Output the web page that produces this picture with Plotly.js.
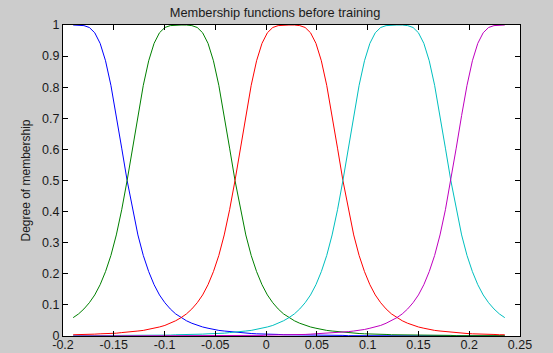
<!DOCTYPE html>
<html>
<head>
<meta charset="utf-8">
<script src="https://cdn.plot.ly/plotly-3.0.1.min.js"></script>
<style>
html,body{margin:0;padding:0;background:#cccccc;}
#chart{width:553px;height:353px;}
</style>
</head>
<body>
<div id="chart"></div>
<script>
// x sample positions (input variable)
var xs = [-0.19,-0.1846875,-0.179375,-0.1740625,-0.16875,-0.1634375,-0.158125,-0.1528125,-0.1475,-0.1421875,
-0.136875,-0.1315625,-0.12625,-0.1209375,-0.115625,-0.1103125,-0.105,-0.0996875,-0.094375,-0.0890625,
-0.08375,-0.0784375,-0.073125,-0.0678125,-0.0625,-0.0571875,-0.051875,-0.0465625,-0.04125,-0.0359375,
-0.030625,-0.0253125,-0.02,-0.0146875,-0.009375,-0.0040625,0.00125,0.0065625,0.011875,0.0171875,
0.0225,0.0278125,0.033125,0.0384375,0.04375,0.0490625,0.054375,0.0596875,0.065,0.0703125,
0.075625,0.0809375,0.08625,0.0915625,0.096875,0.1021875,0.1075,0.1128125,0.118125,0.1234375,
0.12875,0.1340625,0.139375,0.1446875,0.15,0.1553125,0.160625,0.1659375,0.17125,0.1765625,
0.181875,0.1871875,0.1925,0.1978125,0.203125,0.2084375,0.21375,0.2190625,0.224375,0.2296875,0.235];

var mf1 = [1,1,0.998,0.992,0.975,0.941,0.885,0.806,0.709,0.604,0.5,0.406,0.325,0.259,0.207,0.165,0.132,0.107,0.087,0.071,
0.059,0.049,0.041,0.034,0.029,0.025,0.021,0.018,0.016,0.014,0.012,0.011,0.009,0.008,0.007,0.007,0.006,0.005,0.005,0.004,
0.004,0.004,0.003,0.003,0.003,0.002,0.002,0.002,0.002,0.002,0.002,
0.001,0.001,0.001,0.001,0.001,0.001,0.001,0.001,0.001,0.001,0.001,0.001,0.001,0.001,0.001,0.001,
0,0,0,0,0,0,0,0,0,0,0,0,0,0];

var mf2 = [0.059,0.071,0.087,0.107,0.132,0.165,0.207,0.259,0.325,0.406,0.5,0.604,0.709,0.806,0.885,0.941,0.975,0.992,0.998,1,
1,1,0.998,0.992,0.975,0.941,0.885,0.806,0.709,0.604,0.5,0.406,0.325,0.259,0.207,0.165,0.132,0.107,0.087,0.071,
0.059,0.049,0.041,0.034,0.029,0.025,0.021,0.018,0.016,0.014,0.012,0.011,0.009,0.008,0.007,0.007,0.006,0.005,0.005,0.004,
0.004,0.004,0.003,0.003,0.003,0.002,0.002,0.002,0.002,0.002,0.002,
0.001,0.001,0.001,0.001,0.001,0.001,0.001,0.001,0.001,0.001];

var mf3 = [0.004,0.004,0.005,0.005,0.006,0.007,0.007,0.008,0.009,0.011,0.012,0.014,0.016,0.018,0.021,0.025,0.029,0.034,0.041,0.049,
0.059,0.071,0.087,0.107,0.132,0.165,0.207,0.259,0.325,0.406,0.5,0.604,0.709,0.806,0.885,0.941,0.975,0.992,0.998,1,
1,1,0.998,0.992,0.975,0.941,0.885,0.806,0.709,0.604,0.5,0.406,0.325,0.259,0.207,0.165,0.132,0.107,0.087,0.071,
0.059,0.049,0.041,0.034,0.029,0.025,0.021,0.018,0.016,0.014,0.012,0.011,0.009,0.008,0.007,0.007,0.006,0.005,0.005,0.004,0.004];

var mf4 = [0.001,0.001,0.001,0.001,0.001,0.001,0.001,0.001,0.001,0.001,
0.002,0.002,0.002,0.002,0.002,0.002,0.003,0.003,0.003,0.004,
0.004,0.004,0.005,0.005,0.006,0.007,0.007,0.008,0.009,0.011,0.012,0.014,0.016,0.018,0.021,0.025,0.029,0.034,0.041,0.049,
0.059,0.071,0.087,0.107,0.132,0.165,0.207,0.259,0.325,0.406,0.5,0.604,0.709,0.806,0.885,0.941,0.975,0.992,0.998,1,
1,1,0.998,0.992,0.975,0.941,0.885,0.806,0.709,0.604,0.5,0.406,0.325,0.259,0.207,0.165,0.132,0.107,0.087,0.071,0.059];

var mf5 = [0,0,0,0,0,0,0,0,0,0,0,0,0,0,
0.001,0.001,0.001,0.001,0.001,0.001,0.001,0.001,0.001,0.001,0.001,0.001,0.001,0.001,0.001,0.001,
0.002,0.002,0.002,0.002,0.002,0.002,0.003,0.003,0.003,0.004,0.004,0.004,0.005,0.005,0.006,0.007,0.007,0.008,0.009,0.011,
0.012,0.014,0.016,0.018,0.021,0.025,0.029,0.034,0.041,0.049,
0.059,0.071,0.087,0.107,0.132,0.165,0.207,0.259,0.325,0.406,0.5,0.604,0.709,0.806,0.885,0.941,0.975,0.992,0.998,1,1];

var seriesNames = ["mf1","mf2","mf3","mf4","mf5"];
var seriesColors = ["#0000ff","#008000","#ff0000","#00bfbf","#bf00bf"];
var seriesValues = [mf1, mf2, mf3, mf4, mf5];

var xTickVals = [-0.2,-0.15,-0.1,-0.05,0,0.05,0.1,0.15,0.2,0.25];
var xTickText = ["-0.2","-0.15","-0.1","-0.05","0","0.05","0.1","0.15","0.2","0.25"];
var yTickVals = [0,0.1,0.2,0.3,0.4,0.5,0.6,0.7,0.8,0.9,1];
var yTickText = ["0","0.1","0.2","0.3","0.4","0.5","0.6","0.7","0.8","0.9","1"];

var traces = seriesValues.map(function(v, i){
  return {x: xs, y: v, type: "scatter", mode: "lines", name: seriesNames[i],
          line: {color: seriesColors[i], width: 1}, hoverinfo: "x+y"};
});

var fam = "Arial, 'Liberation Sans', sans-serif";
var tickFnt = {family: fam, size: 12.5, color: "#1a1a1a"};

var layout = {
  width: 553, height: 353,
  paper_bgcolor: "#cccccc", plot_bgcolor: "#ffffff",
  margin: {l: 63, r: 33, t: 25, b: 17, pad: 0},
  showlegend: false,
  font: tickFnt,
  title: {text: "Membership functions before training", font: {family: fam, size: 12.8, color: "#1a1a1a"},
          x: 275/553, xanchor: "center", y: 1 - 13/353, yanchor: "middle"},
  xaxis: {range: [-0.2, 0.25], tickmode: "array", tickvals: xTickVals, ticktext: xTickText,
          ticks: "inside", ticklen: 5, tickcolor: "#000", showline: true, linecolor: "#000", linewidth: 1,
          mirror: "ticks", showgrid: false, zeroline: false, tickfont: tickFnt, automargin: false,
          ticklabelstandoff: -3},
  yaxis: {range: [0, 1], tickmode: "array", tickvals: yTickVals, ticktext: yTickText,
          ticks: "inside", ticklen: 5, tickcolor: "#000", showline: true, linecolor: "#000", linewidth: 1,
          mirror: "ticks", showgrid: false, zeroline: false, tickfont: tickFnt, automargin: false,
          title: {text: "Degree of membership", font: {family: fam, size: 12, color: "#1a1a1a"}, standoff: 8}}
};

Plotly.newPlot("chart", traces, layout, {displayModeBar: false, staticPlot: true});
</script>
</body>
</html>
